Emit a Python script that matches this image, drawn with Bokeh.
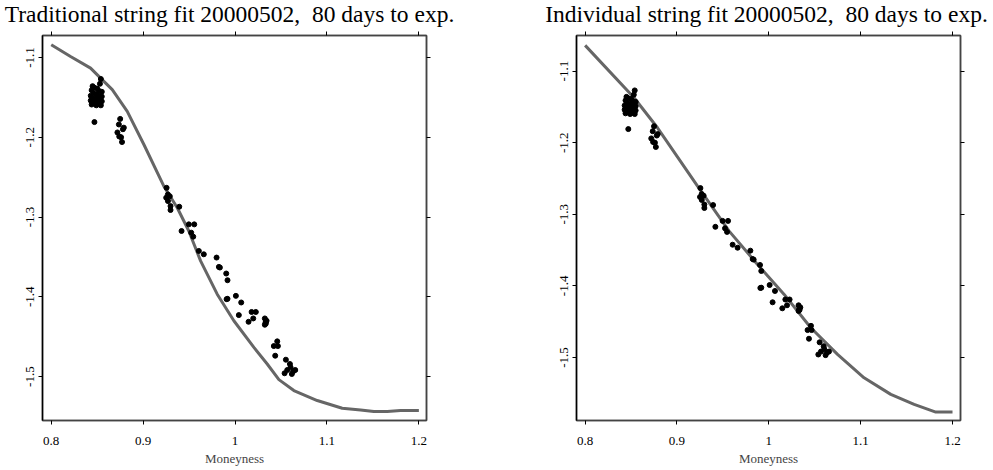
from bokeh.plotting import figure
from bokeh.models import LinearAxis, FixedTicker, Range1d, Label
from bokeh.layouts import row, column
from bokeh.embed import file_html
from bokeh.resources import INLINE

# observed data (same for both panels)
obs_m = [0.854, 0.853, 0.845, 0.847, 0.850, 0.844, 0.852, 0.855, 0.846, 0.849, 0.843, 0.851, 0.855,
         0.845, 0.848, 0.853, 0.843, 0.850, 0.855, 0.846, 0.852, 0.844, 0.849, 0.854, 0.847,
         0.875, 0.8736, 0.878, 0.879, 0.872, 0.874, 0.876, 0.877,
         0.9255, 0.9269, 0.9251, 0.929, 0.927, 0.9298, 0.9298, 0.9393, 0.9497, 0.9556, 0.9418,
         0.9523, 0.9545, 0.9606,
         0.966, 0.9799, 0.9824, 0.9835, 0.9904, 0.9918, 0.9908, 0.9918, 1.0009, 1.0067, 1.0041,
         1.018, 1.0226, 1.0198, 1.0147, 1.0324, 1.0332, 1.0324, 1.0343, 1.0335, 1.0459, 1.0422,
         1.0466, 1.0437, 1.0553, 1.0597, 1.0604, 1.0568, 1.0539, 1.0633, 1.0655, 1.0618]
obs_v = [-1.127, -1.133, -1.136, -1.138, -1.139, -1.141, -1.142, -1.143, -1.145, -1.146, -1.148, -1.148, -1.149,
         -1.151, -1.152, -1.152, -1.154, -1.155, -1.155, -1.157, -1.158, -1.159, -1.160, -1.160, -1.181,
         -1.177, -1.184, -1.190, -1.188, -1.194, -1.199, -1.200, -1.206,
         -1.2634, -1.2717, -1.2758, -1.274, -1.28, -1.2863, -1.2912, -1.2871, -1.3092, -1.3092, -1.3175,
         -1.3196, -1.3246, -1.3425,
         -1.3467, -1.3508, -1.3625, -1.3633, -1.3708, -1.3792, -1.4029, -1.4025, -1.3988, -1.4071, -1.4229,
         -1.419, -1.419, -1.4271, -1.4313, -1.4271, -1.432, -1.435, -1.43, -1.4335, -1.4558, -1.4617,
         -1.4617, -1.4738, -1.4788, -1.4842, -1.4883, -1.4917, -1.4958, -1.4933, -1.4917, -1.4967]

# traditional string fit curve
trad_m = [0.800, 0.821, 0.8428, 0.8537, 0.8664, 0.8827, 0.9008, 0.9225, 0.9371, 0.9497, 0.9625, 0.9806,
          0.9987, 1.0205, 1.035, 1.0477, 1.064, 1.0894, 1.1166, 1.1366, 1.151, 1.1656, 1.1801, 1.200]
trad_v = [-1.0841, -1.0988, -1.1134, -1.1259, -1.1404, -1.1675, -1.2091, -1.2613, -1.2884, -1.3175, -1.355, -1.3967,
          -1.430, -1.4634, -1.4842, -1.5038, -1.5175, -1.530, -1.5396, -1.5417, -1.5438, -1.5438, -1.5425, -1.5425]

# individual string fit curve
ind_m = [0.800, 0.8533, 0.8788, 0.9224, 0.9568, 0.9877, 1.0167, 1.0457, 1.0748, 1.1037, 1.1328, 1.1582, 1.1818, 1.200]
ind_v = [-1.0641, -1.1373, -1.1792, -1.2606, -1.3235, -1.370, -1.4119, -1.4585, -1.4957, -1.5283, -1.5515, -1.5655,
         -1.5763, -1.5763]

x_ticks = [0.8, 0.9, 1.0, 1.1, 1.2]
x_labels = ["0.8", "0.9", "1", "1.1", "1.2"]
y_ticks = [-1.5, -1.4, -1.3, -1.2, -1.1]
y_labels = ["-1.5", "-1.4", "-1.3", "-1.2", "-1.1"]

titles = ["Traditional string fit 20000502,\u00a0 80 days to exp.",
          "Individual string fit 20000502,\u00a0 80 days to exp."]

FONT = "Liberation Serif"
TITLE_H = 28
FIG_H = 470 - TITLE_H


def make_title(text, width, center_x):
    t = figure(width=width, height=TITLE_H, output_backend="svg", toolbar_location=None,
               x_range=Range1d(0, 1), y_range=Range1d(0, 1),
               x_axis_location=None, y_axis_location=None,
               min_border_left=0, min_border_right=0, min_border_top=0, min_border_bottom=0)
    t.grid.visible = False
    t.outline_line_color = None
    t.background_fill_color = "white"
    t.border_fill_color = "white"
    lab = Label(x=center_x, y=TITLE_H - 13, x_units="screen", y_units="screen",
                text=text, text_font=FONT, text_font_size="23.5px", text_align="center",
                text_baseline="middle", text_line_height=1.0, text_color="black")
    t.add_layout(lab)
    return t


def make_panel(cm, cv, xr, yr, width, bl, br, bt):
    p = figure(width=width, height=FIG_H, output_backend="svg", toolbar_location=None,
               x_range=Range1d(*xr), y_range=Range1d(*yr),
               x_axis_location=None, y_axis_location=None,
               min_border_left=bl, min_border_right=br, min_border_top=bt, min_border_bottom=50)
    p.grid.visible = False
    p.outline_line_color = "#444444"
    p.outline_line_width = 1.5
    p.background_fill_color = "white"
    p.border_fill_color = "white"

    xo = {float(t): l for t, l in zip(x_ticks, x_labels)}
    yo = {float(t): l for t, l in zip(y_ticks, y_labels)}

    for side in ["below", "above"]:
        ax = LinearAxis(ticker=FixedTicker(ticks=x_ticks))
        ax.major_label_overrides = xo
        ax.minor_tick_line_color = None
        ax.major_tick_in = 0
        ax.major_tick_out = 4
        ax.major_tick_line_color = "black"
        ax.axis_line_color = "#444444"
        ax.axis_line_width = 1.5
        ax.major_label_text_font = FONT
        if side == "below":
            ax.major_label_text_color = "black"
            ax.major_label_text_font_size = "13px"
            ax.major_label_standoff = 12
            ax.axis_label = "Moneyness"
            ax.axis_label_text_font = FONT
            ax.axis_label_text_font_size = "13px"
            ax.axis_label_text_font_style = "normal"
            ax.axis_label_standoff = 3
        else:
            ax.major_label_text_color = None
            ax.major_label_text_font_size = "0px"
            ax.major_label_standoff = 0
        p.add_layout(ax, side)

    for side in ["left", "right"]:
        ay = LinearAxis(ticker=FixedTicker(ticks=y_ticks))
        ay.major_label_overrides = yo
        ay.minor_tick_line_color = None
        ay.major_tick_in = 0
        ay.major_tick_out = 4
        ay.major_tick_line_color = "black"
        ay.axis_line_color = "black" if side == "left" else "#444444"
        ay.axis_line_width = 1.5
        ay.major_label_text_font = FONT
        if side == "left":
            ay.major_label_text_color = "black"
            ay.major_label_text_font_size = "13px"
            ay.major_label_orientation = "parallel"
            ay.major_label_standoff = 4
        else:
            ay.major_label_text_color = None
            ay.major_label_text_font_size = "0px"
            ay.major_label_standoff = 0
        p.add_layout(ay, side)

    p.line(cm, cv, line_color="#666666", line_width=3)
    p.scatter(obs_m, obs_v, size=5, color="black")
    return p


W1, W2 = 478, 513
t1 = make_title(titles[0], W1, 229)
t2 = make_title(titles[1], W2, 766 - W1)
p1 = make_panel(trad_m, trad_v, (0.7905, 1.2083), (-1.555, -1.0725), W1, 42, 52, 6)
p2 = make_panel(ind_m, ind_v, (0.7906, 1.2087), (-1.588, -1.0503), W2, 98, 31, 7)

layout = column(row(t1, t2), row(p1, p2))
open("out.html", "w").write(file_html(layout, INLINE))
